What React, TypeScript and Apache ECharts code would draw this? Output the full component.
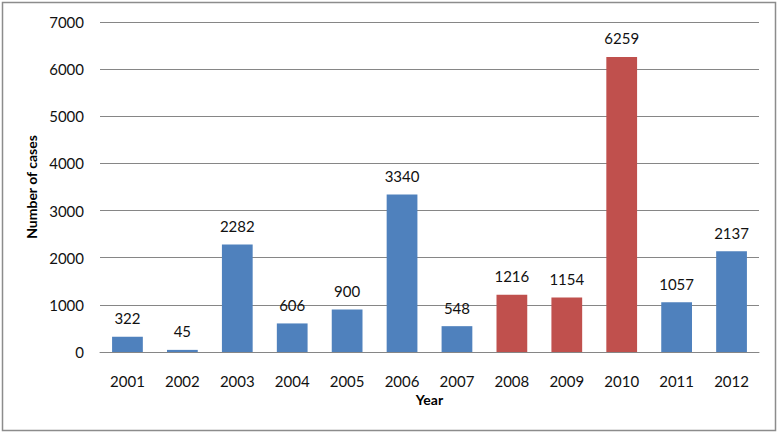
import React, { useEffect, useRef } from "react";
import * as echarts from "echarts";

const years = ["2001", "2002", "2003", "2004", "2005", "2006", "2007", "2008", "2009", "2010", "2011", "2012"];
const cases = [322, 45, 2282, 606, 900, 3340, 548, 1216, 1154, 6259, 1057, 2137];
const highlighted = ["2008", "2009", "2010"];

const BLUE = "#4F81BD";
const RED = "#C0504D";
const FONT = "Lato";

export default function App() {
  const ref = useRef<HTMLDivElement>(null);
  useEffect(() => {
    if (!ref.current) return;
    const chart = echarts.init(ref.current, undefined, { renderer: "svg" });
    chart.setOption({
      animation: false,
      backgroundColor: "#ffffff",
      textStyle: { fontFamily: FONT },
      graphic: [
        {
          type: "rect",
          shape: { x: 2.5, y: 2.5, width: 773, height: 428 },
          style: { fill: "none", stroke: "#8c8c8c", lineWidth: 1.5 },
          silent: true,
        },
      ],
      grid: { left: 100, right: 21, top: 22, bottom: 82 },
      xAxis: {
        type: "category",
        data: years,
        name: "Year",
        nameLocation: "middle",
        nameGap: 40,
        nameTextStyle: { fontFamily: FONT, fontSize: 14, fontWeight: "bold", color: "#000" },
        axisLine: { show: true, lineStyle: { color: "#868686", width: 1 } },
        axisTick: { show: false },
        axisLabel: { fontFamily: FONT, fontSize: 15, color: "#111", margin: 21 },
      },
      yAxis: {
        type: "value",
        min: 0,
        max: 7000,
        interval: 1000,
        name: "Number of cases",
        nameLocation: "middle",
        nameGap: 52,
        nameTextStyle: { fontFamily: FONT, fontSize: 14, fontWeight: "bold", color: "#000" },
        axisLine: { show: false },
        axisTick: { show: false },
        axisLabel: {
          fontFamily: FONT,
          fontSize: 15,
          color: "#111",
          margin: 16,
          formatter: (v: number) => String(v),
        },
        splitLine: { lineStyle: { color: "#868686", width: 1 } },
      },
      series: [
        {
          type: "bar",
          data: cases.map((v, i) => ({
            value: v,
            itemStyle: { color: highlighted.includes(years[i]) ? RED : BLUE },
          })),
          barWidth: "56%",
          label: {
            show: true,
            position: "top",
            distance: 11,
            fontFamily: FONT,
            fontSize: 15,
            color: "#111",
          },
        },
      ],
    });
    return () => chart.dispose();
  }, []);
  return <div ref={ref} style={{ position: "fixed", left: 0, top: 0, width: 780, height: 434 }} />;
}
